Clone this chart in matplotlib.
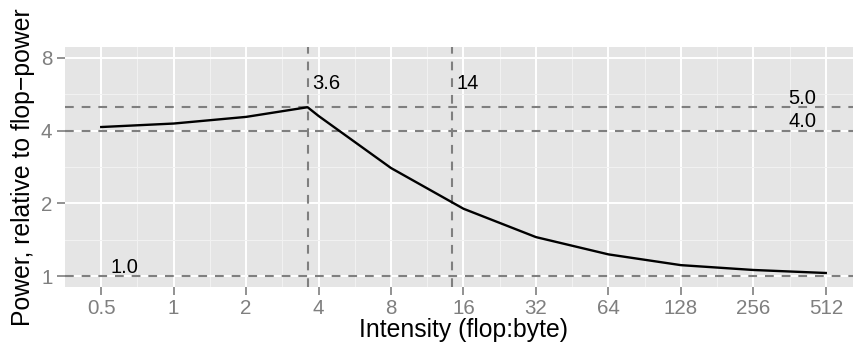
import matplotlib
matplotlib.use('Agg')
import matplotlib.pyplot as plt

# ---- data ----
intensity = [0.5, 1, 2, 3.6, 4, 8, 16, 32, 64, 128, 256, 512]
power = [4.14, 4.28, 4.56, 5.0, 4.6, 2.8, 1.9, 1.45, 1.23, 1.11, 1.06, 1.03]

x_ticks = [0.5, 1, 2, 4, 8, 16, 32, 64, 128, 256, 512]
x_tick_labels = ["0.5", "1", "2", "4", "8", "16", "32", "64", "128", "256", "512"]
y_ticks = [1, 2, 4, 8]
y_tick_labels = ["1", "2", "4", "8"]

vlines = [3.6, 14.4]
vline_labels = ["3.6", "14"]
hlines = [1.0, 4.0, 5.0]
hline_labels = ["1.0", "4.0", "5.0"]
hline_label_x = [0.625, 410, 410]

x_title = "Intensity (flop:byte)"
y_title = "Power, relative to flop\u2212power"

plt.rcParams['font.family'] = ['Liberation Sans', 'DejaVu Sans']

W, H = 854, 350
fig = plt.figure(figsize=(W / 100, H / 100), dpi=100)
L, R, T, B = 65, 862, 47, 287
ax = fig.add_axes([L / W, 1 - B / H, (R - L) / W, (B - T) / H])
ax.set_facecolor('#E5E5E5')
for s in ax.spines.values():
    s.set_visible(False)

ax.set_xscale('log', base=2)
ax.set_yscale('log', base=2)
ax.set_xlim(2 ** -1.5, 2 ** 9.5)
ax.set_ylim(2 ** -0.15, 2 ** 3.15)

ax.set_xticks(x_ticks)
ax.set_xticklabels(x_tick_labels)
ax.set_yticks(y_ticks)
ax.set_yticklabels(y_tick_labels)
x_minor = [(a * b) ** 0.5 for a, b in zip(x_ticks[:-1], x_ticks[1:])]
y_minor = [(a * b) ** 0.5 for a, b in zip(y_ticks[:-1], y_ticks[1:])]
ax.set_xticks(x_minor, minor=True)
ax.set_yticks(y_minor, minor=True)
ax.tick_params(which='minor', length=0, labelbottom=False, labelleft=False)
ax.tick_params(which='major', length=6, width=1.2, color='#7F7F7F',
               labelcolor='#7F7F7F', labelsize=14.8, pad=3)

ax.grid(which='major', color='white', linewidth=1.4)
ax.grid(which='minor', color='#F2F2F2', linewidth=0.7)
ax.set_axisbelow(True)

dash = dict(color='#7F7F7F', linewidth=1.5, dashes=(4.2, 3.8))
for v in vlines:
    ax.axvline(v, **dash)
for h in hlines:
    ax.axhline(h, **dash)

ax.plot(intensity, power, color='black', linewidth=1.7, zorder=5)

for v, lab in zip(vlines, vline_labels):
    ax.annotate(lab, xy=(v, 2 ** 3.15), xytext=(3, -30), textcoords='offset points',
                ha='left', va='baseline', fontsize=14.5, color='black')
for h, lab, xx in zip(hlines, hline_labels, hline_label_x):
    ax.annotate(lab, xy=(xx, h), xytext=(0, 2.5), textcoords='offset points',
                ha='center', va='baseline', fontsize=14.5, color='black')

ax.set_xlabel(x_title, fontsize=17.8, labelpad=0)
ax.set_ylabel(y_title, fontsize=17.8, labelpad=4)

fig.savefig('out.png', dpi=100)
